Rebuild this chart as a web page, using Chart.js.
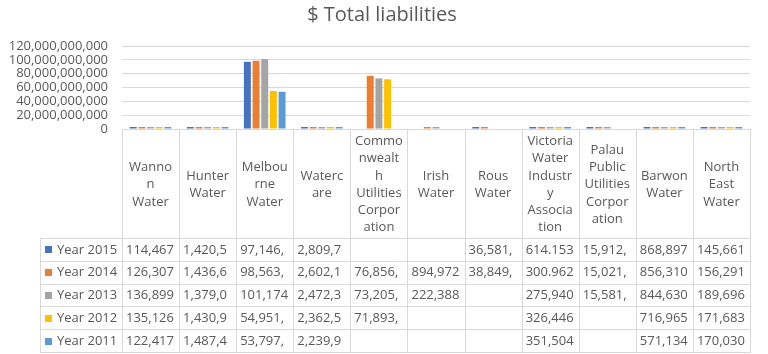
<!DOCTYPE html>
<html>
<head>
<meta charset="utf-8">
<script src="https://cdn.jsdelivr.net/npm/chart.js@4/dist/chart.umd.min.js"></script>
<style>
  html, body { margin: 0; padding: 0; background: #fff; }
  #wrap { width: 768px; height: 354px; position: relative; }
</style>
</head>
<body>
<div id="wrap"><canvas id="c"></canvas></div>
<script>
// ---- data ----
const chartTitle = '$ Total liabilities';
const categories = [
  ['Wanno','n','Water'],
  ['Hunter','Water'],
  ['Melbou','rne','Water'],
  ['Waterc','are'],
  ['Commo','nwealt','h','Utilities','Corpor','ation'],
  ['Irish','Water'],
  ['Rous','Water'],
  ['Victoria','Water','Industr','y','Associa','tion'],
  ['Palau','Public','Utilities','Corpor','ation'],
  ['Barwon','Water'],
  ['North','East','Water']
];
const seriesNames = ['Year 2015','Year 2014','Year 2013','Year 2012','Year 2011'];
const year2015 = [114467000, 1420500000, 97146000000, 2809700000, null, null, 36581000, 614.153, 15912000, 868897000, 145661000];
const year2014 = [126307000, 1436600000, 98563000000, 2602100000, 76856000000, 894972000, 38849000, 300.962, 15021000, 856310000, 156291000];
const year2013 = [136899000, 1379000000, 101174000000, 2472300000, 73205000000, 222388000, null, 275940, 15581000, 844630000, 189696000];
const year2012 = [135126000, 1430900000, 54951000000, 2362500000, 71893000000, null, null, 326446, null, 716965000, 171683000];
const year2011 = [122417000, 1487400000, 53797000000, 2239900000, null, null, null, 351504, null, 571134000, 170030000];
const seriesValues = [year2015, year2014, year2013, year2012, year2011];
const yTicks = [0, 20000000000, 40000000000, 60000000000, 80000000000, 100000000000, 120000000000];

// ---- styles ----
const colors = ['#4472C4','#ED7D31','#A5A5A5','#FFC000','#5B9BD5'];
const FONT = '"Open Sans", "Noto Sans", sans-serif';
const TEXT = '#595959';
const LINE = '#d9d9d9';

function fmt(v) { return v.toLocaleString('en-US', { maximumFractionDigits: 3 }); }

const tablePlugin = {
  id: 'dataTable',
  afterDraw(chart) {
    const ctx = chart.ctx;
    const ca = chart.chartArea;
    const n = categories.length;
    const colW = (ca.right - ca.left) / n;
    const headerTop = ca.bottom;
    const headerBottom = 238;
    const rowH = 22.8;
    const legendLeft = 40;
    const tableBottom = headerBottom + rowH * seriesNames.length;
    ctx.save();
    // title
    ctx.fillStyle = TEXT;
    ctx.font = '20px ' + FONT;
    ctx.textAlign = 'center';
    ctx.textBaseline = 'middle';
    ctx.fillText(chartTitle, 382, 15);

    // grid lines of table
    ctx.strokeStyle = LINE;
    ctx.lineWidth = 1;
    ctx.beginPath();
    for (let i = 0; i <= n; i++) {
      const x = Math.round(ca.left + i * colW) + 0.5;
      ctx.moveTo(x, headerTop);
      ctx.lineTo(x, tableBottom);
    }
    ctx.moveTo(legendLeft + 0.5, headerBottom);
    ctx.lineTo(legendLeft + 0.5, tableBottom);
    for (let r = 0; r <= seriesNames.length; r++) {
      const y = Math.round(headerBottom + r * rowH) + 0.5;
      ctx.moveTo(legendLeft, y);
      ctx.lineTo(ca.right + 1, y);
    }
    ctx.stroke();

    // header labels
    ctx.font = '13px ' + FONT;
    ctx.fillStyle = TEXT;
    ctx.textAlign = 'center';
    ctx.textBaseline = 'middle';
    const lh = 17.3;
    const hc = (headerTop + headerBottom) / 2 + 1;
    categories.forEach((lines, i) => {
      const cx = ca.left + (i + 0.5) * colW;
      const y0 = hc - (lines.length - 1) * lh / 2;
      lines.forEach((t, k) => ctx.fillText(t, cx, y0 + k * lh));
    });

    // rows
    const avail = colW - 7;
    seriesNames.forEach((name, r) => {
      const cy = headerBottom + (r + 0.5) * rowH + 0.5;
      ctx.fillStyle = colors[r];
      ctx.fillRect(45, Math.round(cy - 3.5), 7, 7);
      ctx.fillStyle = TEXT;
      ctx.textAlign = 'left';
      ctx.fillText(name, 57, cy);
      seriesValues[r].forEach((v, i) => {
        if (v === null) return;
        let s = fmt(v);
        while (s.length && ctx.measureText(s).width > avail) s = s.slice(0, -1);
        ctx.fillText(s, ca.left + i * colW + 4, cy);
      });
    });
    ctx.restore();
  }
};

new Chart(document.getElementById('c'), {
  type: 'bar',
  data: {
    labels: categories,
    datasets: seriesNames.map((name, i) => ({
      label: name,
      data: seriesValues[i],
      backgroundColor: colors[i],
      borderWidth: 0,
      minBarLength: 2,
      categoryPercentage: 0.76,
      barPercentage: 0.8
    }))
  },
  options: {
    responsive: true,
    maintainAspectRatio: false,
    devicePixelRatio: 1,
    animation: false,
    layout: { padding: { top: 46, right: 18, bottom: 225, left: 0 } },
    plugins: {
      legend: { display: false },
      title: { display: false },
      tooltip: { enabled: false }
    },
    scales: {
      x: { display: false },
      y: {
        min: yTicks[0],
        max: yTicks[yTicks.length - 1],
        afterBuildTicks(scale) { scale.ticks = yTicks.map(v => ({ value: v })); },
        afterFit(scale) { scale.width = 122; },
        border: { display: false },
        grid: { color: LINE, drawTicks: false, lineWidth: 1 },
        ticks: {
          autoSkip: false,
          padding: 14,
          color: TEXT,
          font: { family: FONT, size: 13 },
          callback: v => fmt(v)
        }
      }
    }
  },
  plugins: [tablePlugin]
});
</script>
</body>
</html>
